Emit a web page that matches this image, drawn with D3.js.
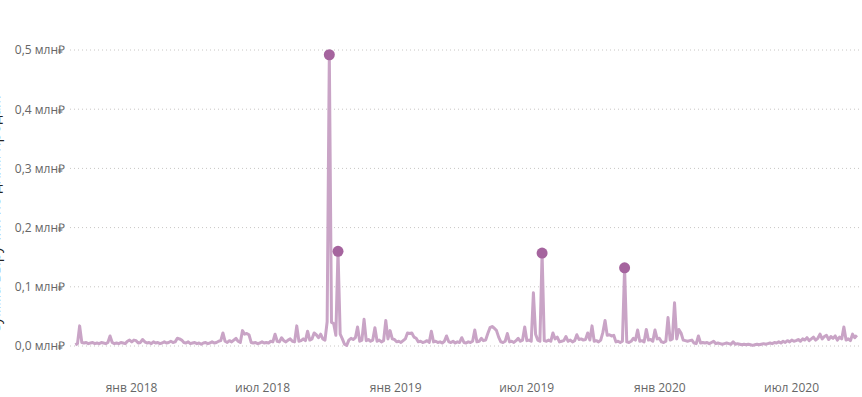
<!DOCTYPE html>
<html>
<head>
<meta charset="utf-8">
<script src="https://cdn.jsdelivr.net/npm/d3@7.9.0/dist/d3.min.js"></script>
<style>
  body { margin: 0; background: #fff; }
  svg { display: block; font-family: "Segoe UI", "Open Sans", sans-serif; }
  .tick text { fill: #666666; }
</style>
</head>
<body>
<svg id="chart" width="862" height="397"></svg>
<script>
// daily series sampled every 3 days, values in млн ₽
const startDate = new Date(2017, 9, 16);
const stepDays = 3;
const values = [
  0.002, 0.004, 0.034, 0.006, 0.005, 0.006, 0.004, 0.005, 0.006, 0.004,
  0.005, 0.004, 0.006, 0.005, 0.004, 0.006, 0.017, 0.006, 0.004, 0.005,
  0.004, 0.006, 0.005, 0.004, 0.008, 0.010, 0.007, 0.010, 0.009, 0.005,
  0.006, 0.011, 0.007, 0.005, 0.006, 0.004, 0.007, 0.005, 0.006, 0.004,
  0.005, 0.007, 0.005, 0.006, 0.008, 0.006, 0.007, 0.013, 0.012, 0.010,
  0.006, 0.005, 0.007, 0.004, 0.005, 0.006, 0.004, 0.005, 0.003, 0.005,
  0.006, 0.004, 0.005, 0.007, 0.005, 0.006, 0.008, 0.009, 0.022, 0.008,
  0.006, 0.009, 0.007, 0.010, 0.013, 0.008, 0.006, 0.026, 0.020, 0.021,
  0.019, 0.006, 0.005, 0.006, 0.004, 0.005, 0.007, 0.005, 0.006, 0.005,
  0.008, 0.007, 0.020, 0.008, 0.007, 0.014, 0.009, 0.007, 0.010, 0.012,
  0.008, 0.007, 0.034, 0.008, 0.009, 0.012, 0.009, 0.025, 0.010, 0.012,
  0.022, 0.019, 0.014, 0.020, 0.012, 0.010, 0.041, 0.492, 0.040, 0.038,
  0.018, 0.160, 0.020, 0.012, 0.003, 0.001, 0.010, 0.013, 0.011, 0.014,
  0.032, 0.008, 0.010, 0.045, 0.009, 0.011, 0.008, 0.010, 0.031, 0.008,
  0.010, 0.007, 0.009, 0.043, 0.012, 0.026, 0.012, 0.011, 0.007, 0.008,
  0.006, 0.009, 0.012, 0.022, 0.021, 0.022, 0.015, 0.013, 0.007, 0.008,
  0.006, 0.007, 0.009, 0.006, 0.025, 0.007, 0.008, 0.006, 0.007, 0.005,
  0.008, 0.017, 0.007, 0.006, 0.008, 0.005, 0.007, 0.006, 0.014, 0.006,
  0.005, 0.007, 0.006, 0.008, 0.027, 0.007, 0.008, 0.013, 0.009, 0.010,
  0.021, 0.031, 0.033, 0.030, 0.026, 0.015, 0.007, 0.006, 0.008, 0.021,
  0.007, 0.008, 0.006, 0.009, 0.013, 0.008, 0.010, 0.032, 0.009, 0.010,
  0.008, 0.090, 0.020, 0.010, 0.008, 0.157, 0.009, 0.008, 0.010, 0.008,
  0.022, 0.012, 0.015, 0.007, 0.008, 0.009, 0.016, 0.008, 0.010, 0.007,
  0.009, 0.019, 0.011, 0.012, 0.010, 0.011, 0.022, 0.010, 0.034, 0.008,
  0.009, 0.007, 0.010, 0.023, 0.043, 0.018, 0.019, 0.017, 0.018, 0.007,
  0.008, 0.006, 0.008, 0.132, 0.007, 0.006, 0.008, 0.013, 0.010, 0.027,
  0.008, 0.009, 0.007, 0.028, 0.010, 0.011, 0.008, 0.027, 0.012, 0.013,
  0.007, 0.006, 0.008, 0.048, 0.010, 0.012, 0.073, 0.012, 0.028, 0.022,
  0.010, 0.009, 0.008, 0.009, 0.010, 0.005, 0.004, 0.017, 0.005, 0.006,
  0.005, 0.006, 0.004, 0.006, 0.008, 0.004, 0.005, 0.004, 0.003, 0.004,
  0.005, 0.004, 0.003, 0.007, 0.003, 0.004, 0.003, 0.002, 0.003, 0.002,
  0.003, 0.002, 0.001, 0.002, 0.003, 0.002, 0.003, 0.004, 0.003, 0.004,
  0.005, 0.004, 0.006, 0.005, 0.007, 0.005, 0.008, 0.006, 0.009, 0.007,
  0.010, 0.008, 0.009, 0.011, 0.008, 0.012, 0.010, 0.014, 0.009, 0.012,
  0.015, 0.010, 0.013, 0.020, 0.012, 0.016, 0.018, 0.011, 0.016, 0.013,
  0.017, 0.010, 0.015, 0.012, 0.032, 0.010, 0.012, 0.009, 0.020, 0.014,
  0.018
];
const yTicks = [0, 0.1, 0.2, 0.3, 0.4, 0.5];
const monthNames = ["янв", "фев", "мар", "апр", "май", "июн", "июл", "авг", "сен", "окт", "ноя", "дек"];
const yTitle = "Сумма выручки по дням продаж";
const markerThreshold = 0.1;

const data = values.map((v, i) => ({ date: d3.timeDay.offset(startDate, i * stepDays), value: v }));

const svg = d3.select("#chart");

const x = d3.scaleTime()
  .domain(d3.extent(data, d => d.date))
  .range([75.3, 856.9]);

const y = d3.scaleLinear()
  .domain([0, 0.5])
  .range([346, 50]);

// grid lines
svg.append("g")
  .selectAll("line")
  .data(yTicks)
  .join("line")
  .attr("x1", 70)
  .attr("x2", 860)
  .attr("y1", d => y(d))
  .attr("y2", d => y(d))
  .attr("stroke", "#c8c6c4")
  .attr("stroke-width", 1)
  .attr("stroke-dasharray", "1,3");

// y axis
const yAxis = svg.append("g")
  .attr("transform", "translate(70,0)")
  .call(d3.axisLeft(y)
    .tickValues(yTicks)
    .tickSize(0)
    .tickPadding(5)
    .tickFormat(d => d3.format(".1f")(d).replace(".", ",") + " млн₽"));
yAxis.select(".domain").remove();
yAxis.selectAll("text").attr("font-size", 12).attr("font-family", "'Segoe UI', 'Open Sans', sans-serif");

// x axis
const xAxis = svg.append("g")
  .attr("transform", "translate(0,378)")
  .call(d3.axisBottom(x)
    .ticks(d3.timeMonth.every(6))
    .tickSize(0)
    .tickPadding(5)
    .tickFormat(d => monthNames[d.getMonth()] + " " + d.getFullYear()));
xAxis.select(".domain").remove();
xAxis.selectAll("text").attr("font-size", 12).attr("font-family", "'Segoe UI', 'Open Sans', sans-serif");

// y axis title, mostly cut off at the left edge
svg.append("text")
  .attr("transform", "translate(-0.5,215) rotate(-90)")
  .attr("text-anchor", "middle")
  .attr("font-size", 15)
  .attr("fill", "#252423")
  .text(yTitle);

const line = d3.line()
  .x(d => x(d.date))
  .y(d => y(d.value));

svg.append("path")
  .datum(data)
  .attr("d", line)
  .attr("fill", "none")
  .attr("stroke", "#c9a4c6")
  .attr("stroke-width", 3)
  .attr("stroke-linejoin", "round");

svg.append("g")
  .selectAll("circle")
  .data(data.filter(d => d.value > markerThreshold))
  .join("circle")
  .attr("cx", d => x(d.date))
  .attr("cy", d => y(d.value))
  .attr("r", 5.5)
  .attr("fill", "#a5649e");
</script>
</body>
</html>
